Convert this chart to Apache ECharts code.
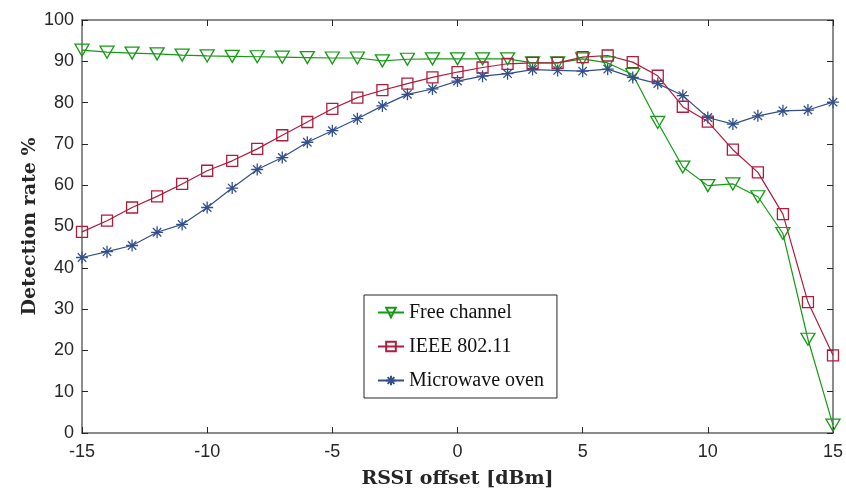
<!DOCTYPE html>
<html>
<head>
<meta charset="utf-8">
<script src="https://cdn.jsdelivr.net/npm/echarts@6/dist/echarts.min.js"></script>
<style>html,body{margin:0;padding:0;background:#fff}#c{width:846px;height:494px}</style>
</head>
<body>
<div id="c"></div>
<script>
var xValues = [-15,-14,-13,-12,-11,-10,-9,-8,-7,-6,-5,-4,-3,-2,-1,0,1,2,3,4,5,6,7,8,9,10,11,12,13,14,15];
var freeChannel = [92.7,92.2,92.0,91.8,91.5,91.3,91.2,91.1,91.0,90.9,90.8,90.8,90.1,90.5,90.6,90.6,90.6,90.6,89.6,89.6,90.6,89.6,86.8,75.2,64.4,59.9,60.3,57.2,48.3,22.7,1.9];
var ieee80211 = [48.7,51.4,54.6,57.3,60.3,63.5,65.9,68.8,72.1,75.3,78.5,81.2,83.0,84.6,86.1,87.4,88.5,89.4,89.6,89.6,91.0,91.4,89.8,86.5,79.0,75.4,68.6,63.1,53.0,31.7,18.8];
var microwaveOven = [42.5,43.9,45.4,48.6,50.5,54.6,59.3,63.8,66.7,70.4,73.2,76.1,79.2,82.0,83.3,85.2,86.4,87.0,88.0,87.8,87.6,88.1,86.1,84.6,81.7,76.4,74.8,76.8,78.0,78.2,80.1];
var seriesNames = ['Free channel','IEEE 802.11','Microwave oven'];
var xTickLabels = ['-15','-10','-5','0','5','10','15'];
var yTickLabels = ['0','10','20','30','40','50','60','70','80','90','100'];

function pairs(vals){ return xValues.map(function(x,i){ return [x, vals[i]]; }); }

var GREEN = '#159a15', RED = '#b01c3c', BLUE = '#34508c';
var AXIS = '#666';
var star = 'path://M5 0 L5 10 M0 5 L10 5 M1.5 1.5 L8.5 8.5 M1.5 8.5 L8.5 1.5';

var chart = echarts.init(document.getElementById('c'), null, {renderer:'canvas'});
var tickFont = {fontFamily:'Liberation Sans, Arial, sans-serif', fontSize:18, color:'#262626'};
var titleFont = {fontFamily:'DejaVu Serif, serif', fontWeight:'bold', fontSize:19, color:'#262626'};
chart.setOption({
  animation:false,
  backgroundColor:'#fff',
  grid:{left:82, right:12, top:20, bottom:58, containLabel:false},
  xAxis:[{
    type:'value', min:-15, max:15, interval:5, position:'bottom',
    name:'RSSI offset [dBm]', nameLocation:'middle', nameGap:37, nameMoveOverlap:false,
    nameTextStyle:titleFont,
    axisLine:{show:true, onZero:false, lineStyle:{color:AXIS, width:1.5}},
    axisTick:{show:true, inside:true, length:6, lineStyle:{color:'#262626'}},
    axisLabel:Object.assign({margin:10, formatter:function(v){ var i = xTickLabels.indexOf(String(v)); return i>=0 ? xTickLabels[i] : ''; }}, tickFont),
    splitLine:{show:false}
  },{
    type:'value', min:-15, max:15, interval:5, position:'top',
    axisLine:{show:true, onZero:false, lineStyle:{color:AXIS, width:1.5}},
    axisTick:{show:true, inside:true, length:6, lineStyle:{color:'#262626'}},
    axisLabel:{show:false}, splitLine:{show:false}
  }],
  yAxis:[{
    type:'value', min:0, max:100, interval:10, position:'left',
    name:'Detection rate %', nameLocation:'middle', nameGap:42, nameRotate:90, nameMoveOverlap:false,
    nameTextStyle:titleFont,
    axisLine:{show:true, onZero:false, lineStyle:{color:AXIS, width:1.5}},
    axisTick:{show:true, inside:true, length:6, lineStyle:{color:'#262626'}},
    axisLabel:Object.assign({margin:8, formatter:function(v){ var i = yTickLabels.indexOf(String(v)); return i>=0 ? yTickLabels[i] : ''; }}, tickFont),
    splitLine:{show:false}
  },{
    type:'value', min:0, max:100, interval:10, position:'right',
    axisLine:{show:true, onZero:false, lineStyle:{color:AXIS, width:1.5}},
    axisTick:{show:true, inside:true, length:6, lineStyle:{color:'#262626'}},
    axisLabel:{show:false}, splitLine:{show:false}
  }],
  legend:{
    orient:'vertical', left:364, top:295,
    padding:[6,13,6,13], itemGap:11, itemWidth:26, itemHeight:12,
    borderColor:'#262626', borderWidth:1, backgroundColor:'#fff',
    textStyle:{fontFamily:'Liberation Serif, serif', fontSize:20, color:'#111', lineHeight:23},
    data:seriesNames
  },
  series:[{
    name:seriesNames[0], type:'line', data:pairs(freeChannel),
    symbol:'triangle', symbolRotate:180, symbolSize:[14,12],
    lineStyle:{color:GREEN, width:1.2},
    itemStyle:{color:'rgba(0,0,0,0)', borderColor:GREEN, borderWidth:1.3}
  },{
    name:seriesNames[1], type:'line', data:pairs(ieee80211),
    symbol:'rect', symbolSize:11,
    lineStyle:{color:RED, width:1.2},
    itemStyle:{color:'rgba(0,0,0,0)', borderColor:RED, borderWidth:1.3}
  },{
    name:seriesNames[2], type:'line', data:pairs(microwaveOven),
    symbol:star, symbolSize:12,
    lineStyle:{color:BLUE, width:1.2},
    itemStyle:{color:BLUE, borderColor:BLUE, borderWidth:1.3}
  }]
});
</script>
</body>
</html>
